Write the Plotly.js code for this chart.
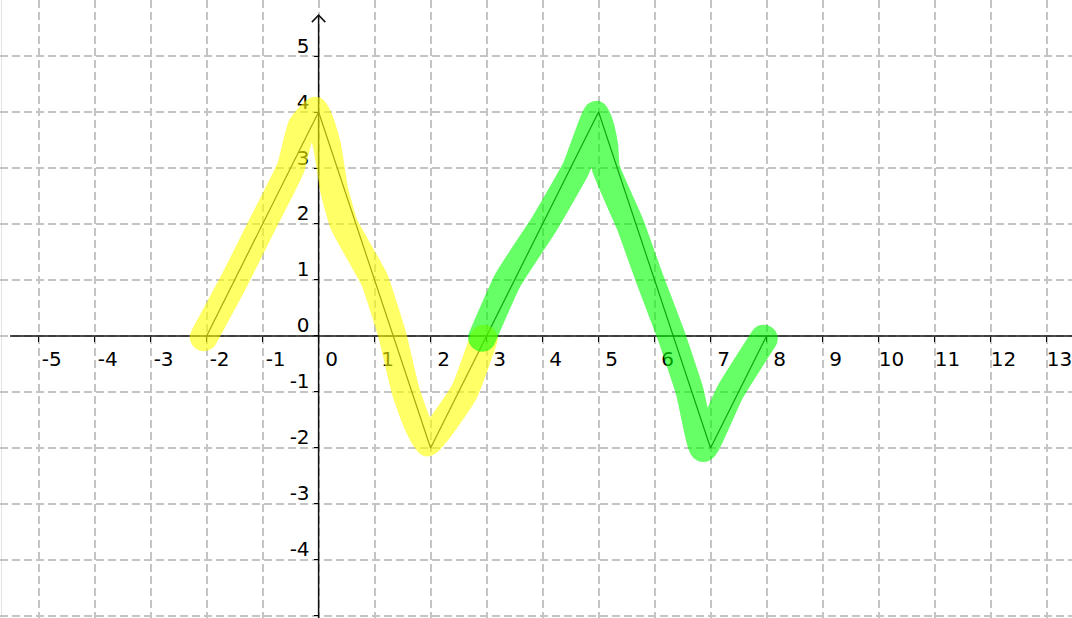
<!DOCTYPE html>
<html>
<head>
<meta charset="utf-8">
<script src="https://cdn.plot.ly/plotly-3.0.1.min.js"></script>
<style>
  html, body { margin: 0; padding: 0; background: #fff; }
  #chart { width: 1072px; height: 618px; }
</style>
</head>
<body>
<div id="chart"></div>
<script>
// ---- data ----
const xTickVals = [-5, -4, -3, -2, -1, 0, 1, 2, 3, 4, 5, 6, 7, 8, 9, 10, 11, 12, 13];
const xTickText = ['-5', '-4', '-3', '-2', '-1', '0', '1', '2', '3', '4', '5', '6', '7', '8', '9', '10', '11', '12', '13'];
const yTickVals = [-5, -4, -3, -2, -1, 0, 1, 2, 3, 4, 5];
const yTickText = ['', '-4', '-3', '-2', '-1', '0', '1', '2', '3', '4', '5'];

// the zig-zag polyline
const lineX = [-2, 0, 2, 3, 5, 7, 8];
const lineY = [0, 4, -2, 0, 4, -2, 0];

// yellow highlighter stroke (hand drawn)
const yellowX = [-2.05, -1.5, -1.0, -0.5, -0.3, -0.05, 0.15, 0.28, 0.45, 0.78, 1.0, 1.32, 1.56, 1.93, 2.6, 2.95];
const yellowY = [-0.02, 1.0, 2.0, 3.0, 3.75, 4.02, 3.4, 2.6, 2.0, 1.4, 1.0, 0.0, -1.0, -1.9, -1.0, -0.05];

// green highlighter stroke
const greenX = [2.92, 3.38, 4.03, 4.6, 4.97, 5.1, 5.13, 5.56, 5.92, 6.3, 6.63, 6.87, 7.35, 7.95];
const greenY = [-0.03, 1.0, 2.0, 3.0, 3.95, 3.4, 3.0, 2.0, 1.0, 0.0, -1.0, -2.0, -1.0, -0.05];

const xRange = [-5.69, 13.455];
const yRange = [-5.036, 6.0];

// ---- chart ----
const font = { family: 'DejaVu Sans', size: 20, color: '#000' };

const traces = [
  { x: lineX, y: lineY, mode: 'lines', line: { color: '#222', width: 1.2 }, hoverinfo: 'skip' },
  { x: yellowX, y: yellowY, mode: 'lines', line: { color: 'rgba(255,255,0,0.6)', width: 28, shape: 'spline', smoothing: 0.4 }, hoverinfo: 'skip' },
  { x: greenX, y: greenY, mode: 'lines', line: { color: 'rgba(0,255,0,0.6)', width: 28, shape: 'spline', smoothing: 0.4 }, hoverinfo: 'skip' }
];

const xAxisPos = (0 - yRange[0]) / (yRange[1] - yRange[0]);
const yAxisPos = (0 - xRange[0]) / (xRange[1] - xRange[0]);
const arrowTop = 5.73;

const layout = {
  width: 1072, height: 618,
  margin: { l: 0, r: 0, t: 0, b: 0 },
  paper_bgcolor: '#fff', plot_bgcolor: '#fff',
  showlegend: false,
  font: font,
  xaxis: {
    range: xRange, tickvals: xTickVals, ticktext: xTickText,
    showgrid: true, gridcolor: '#c4c4c4', gridwidth: 2, griddash: '8px,4px',
    zeroline: false, showline: false,
    ticks: 'outside', ticklen: 5, tickwidth: 1, tickcolor: '#000',
    anchor: 'free', position: xAxisPos, side: 'bottom',
    ticklabelposition: 'outside', ticklabeloverflow: 'allow', tickfont: font,
    ticklabelshift: 13,
    layer: 'below traces', fixedrange: true
  },
  yaxis: {
    range: yRange, tickvals: yTickVals, ticktext: yTickText,
    showgrid: true, gridcolor: '#c4c4c4', gridwidth: 2, griddash: '8px,4px',
    zeroline: false, showline: false,
    ticks: 'outside', ticklen: 5, tickwidth: 1, tickcolor: '#000',
    anchor: 'free', position: yAxisPos, side: 'left',
    ticklabelposition: 'outside top', ticklabeloverflow: 'allow', tickfont: font,
    ticklabelstandoff: 5, ticklabelshift: 4,
    layer: 'below traces', fixedrange: true
  },
  shapes: [
    // x axis line
    { type: 'line', xref: 'x', yref: 'y', x0: -5.51, x1: xRange[1], y0: 0, y1: 0, layer: 'between', line: { color: '#111', width: 1.5 } },
    // y axis line
    { type: 'line', xref: 'x', yref: 'y', x0: 0, x1: 0, y0: yRange[0], y1: arrowTop, layer: 'between', line: { color: '#111', width: 1.5 } },
    // open arrow head
    { type: 'path', xref: 'x', yref: 'y', path: `M -0.12 ${arrowTop - 0.125} L 0 ${arrowTop} L 0.12 ${arrowTop - 0.125}`, layer: 'between', line: { color: '#111', width: 1.5 } },
    // faint left border
    { type: 'line', xref: 'paper', yref: 'paper', x0: 0.0015, x1: 0.0015, y0: 0, y1: 1, layer: 'below', line: { color: '#e2e2e2', width: 1 } }
  ]
};

Plotly.newPlot('chart', traces, layout, { displayModeBar: false, staticPlot: true }).then(function (gd) {
  // highlighter strokes have round ends and joins
  gd.querySelectorAll('.scatterlayer .trace path.js-line').forEach(function (p) {
    p.style.strokeLinecap = 'round';
    p.style.strokeLinejoin = 'round';
  });
});
</script>
</body>
</html>
